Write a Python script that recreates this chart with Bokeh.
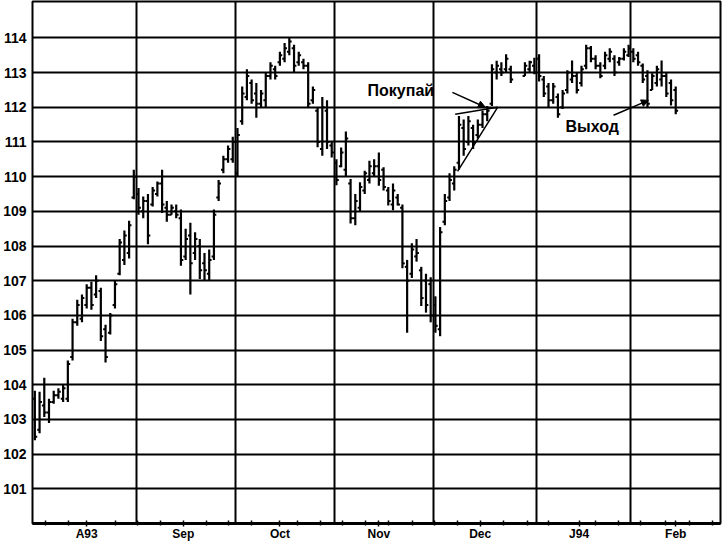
from bokeh.plotting import figure
from bokeh.models import FixedTicker, Arrow, NormalHead, Label, Range1d, ColumnDataSource
from bokeh.embed import file_html
from bokeh.resources import INLINE

# ---- data (trading-day index, prices) ----
aug_h = [103.83,103.8,104.2,103.6,103.83,103.9,104.0,104.7,105.9,106.45,106.6,106.9,106.97,107.16,106.8,105.73,106.07,107.0,108.2,108.45,108.73,110.2]
aug_l = [102.4,102.6,103.07,102.9,103.45,103.6,103.5,103.5,104.7,105.7,105.8,106.2,106.16,106.5,105.26,104.64,105.45,106.2,107.16,107.45,107.64,109.35]
aug_o = [103.6,102.7,103.4,103.2,103.5,103.7,103.6,103.6,104.8,105.8,105.9,106.3,106.8,106.6,106.7,105.6,105.5,106.3,107.2,107.6,107.8,109.4]
aug_c = [102.5,103.5,103.2,103.5,103.7,103.8,103.9,104.6,105.8,106.3,106.5,106.8,106.3,107.0,105.4,104.8,106.0,106.9,108.1,108.3,108.6,110.0]

sep_h = [109.67,109.43,109.5,109.7,109.86,110.2,109.3,109.2,109.2,109.05,108.5,108.67,108.4,108.2,107.8,107.9,109.05,109.9,110.6,110.9,111.15]
sep_l = [108.9,108.8,108.05,109.14,109.43,108.95,108.7,108.9,108.8,107.43,107.6,106.6,107.6,107.05,107.0,107.0,107.6,109.3,110.1,110.4,110.4]
sep_o = [109.5,109.0,109.3,109.2,109.5,109.8,109.1,108.9,109.0,108.8,107.7,108.3,107.8,108.0,107.5,107.2,107.7,109.4,110.2,110.5,110.5]
sep_c = [109.1,109.3,108.3,109.6,109.8,109.2,108.9,109.1,108.9,107.6,108.2,107.5,108.2,107.3,107.3,107.6,108.9,109.8,110.5,110.8,111.0]

oct_h = [111.4,112.6,113.1,112.8,112.7,112.5,113.0,113.3,113.2,113.6,113.85,114.0,113.8,113.6,113.4,113.3,112.6,112.0,112.3,112.2,111.0]
oct_l = [110.0,111.5,112.2,112.1,111.7,112.0,112.0,112.8,112.8,113.2,113.3,113.5,113.0,113.2,113.1,112.0,112.1,110.85,110.6,110.8,110.55]
oct_o = [110.1,111.6,112.3,112.7,112.4,112.1,112.2,112.9,113.1,113.3,113.4,113.6,113.7,113.3,113.3,113.2,112.2,111.9,110.8,111.9,110.9]
oct_c = [111.2,112.4,112.9,112.2,112.1,112.4,112.9,113.2,112.9,113.5,113.7,113.9,113.2,113.5,113.2,112.1,112.5,111.0,112.0,111.0,110.7]

nov_h = [110.5,110.84,111.3,109.93,109.5,109.84,110.17,110.46,110.5,110.7,110.27,109.7,109.8,109.5,109.2,107.6,108.08,108.2,107.4,107.2,107.1]
nov_l = [109.75,110.27,110.0,108.65,108.6,108.98,109.5,109.8,110.0,109.74,109.6,109.17,109.03,109.17,107.36,105.5,107.08,107.55,106.27,106.08,105.8]
nov_o = [110.4,110.3,110.2,109.8,108.8,109.1,109.6,109.9,110.1,110.3,110.2,109.6,109.2,109.4,109.1,107.4,107.2,107.7,107.3,107.0,106.9]
nov_c = [109.9,110.7,111.1,108.8,109.3,109.7,110.1,110.3,110.3,109.9,109.7,109.3,109.6,109.2,107.5,107.0,107.9,107.8,106.5,106.3,106.0]

dec_h = [106.55,108.55,109.5,110.1,110.3,111.75,111.65,111.75,111.5,111.65,111.9,112.04,113.24,113.34,113.3,113.53,113.2,113.3,113.34,113.43]
dec_l = [105.5,105.4,108.6,109.3,109.6,110.2,110.6,110.9,110.8,111.1,111.4,111.6,112.04,112.8,112.9,113.0,112.7,112.9,113.0,112.95]
dec_o = [106.3,105.6,108.7,109.4,109.8,110.4,111.4,111.0,111.4,111.2,111.5,111.8,112.1,113.0,113.1,113.1,113.1,112.9,113.1,113.2]
dec_c = [105.7,108.4,109.3,109.9,110.2,111.5,110.8,111.6,111.0,111.5,111.8,111.9,113.1,113.2,113.0,113.4,112.8,113.2,113.3,113.0]

jan_h = [113.53,112.9,112.7,112.7,112.4,112.5,113.07,113.35,113.0,113.2,113.8,113.77,113.5,113.3,113.6,113.7,113.5,113.45,113.7,113.8]
jan_l = [112.74,112.3,112.0,112.1,111.7,111.95,112.4,112.7,112.4,112.6,113.1,113.3,113.1,112.84,113.1,113.3,112.9,113.2,113.35,113.45]
jan_o = [113.4,112.8,112.6,112.2,112.3,112.0,112.5,112.8,112.9,112.7,113.2,113.7,113.4,113.2,113.2,113.4,113.4,113.3,113.4,113.5]
jan_c = [112.9,112.4,112.2,112.6,111.8,112.4,113.0,112.9,112.5,113.1,113.7,113.4,113.2,112.9,113.5,113.6,113.0,113.4,113.6,113.7]

feb_h = [113.7,113.6,113.26,113.07,112.98,113.2,113.35,113.0,112.8,112.6]
feb_l = [113.3,113.2,112.7,112.0,112.5,112.6,112.6,112.3,112.05,111.8]
feb_o = [113.6,113.5,113.2,112.9,112.5,112.7,112.8,112.9,112.7,112.5]
feb_c = [113.4,113.3,112.8,112.1,112.9,113.1,112.9,112.4,112.2,111.9]

# trading-day index of each bar (two holiday sessions missing in late December)
days = list(range(0, 102)) + list(range(104, 137))

month_starts = [0, 22, 43, 64, 85, 107, 127, 146]
month_label_pos = [11.5, 32, 52.5, 73.5, 95, 116, 136.5]
month_labels = ["A93", "Sep", "Oct", "Nov", "Dec", "J94", "Feb"]
week_ticks = [2.7, 7.6, 17.6, 22.3, 27.2, 36.9, 41.6, 46.5, 56.2, 61.1, 65.8, 70.7,
              75.6, 80.6, 85.4, 90.2, 100, 105, 109.5, 119.5, 124.4, 129, 134.3, 139.4, 144.3]
price_ticks = [101, 102, 103, 104, 105, 106, 107, 108, 109, 110, 111, 112, 113, 114]

highs = aug_h + sep_h + oct_h + nov_h + dec_h + jan_h + feb_h
lows = aug_l + sep_l + oct_l + nov_l + dec_l + jan_l + feb_l
opens = aug_o + sep_o + oct_o + nov_o + dec_o + jan_o + feb_o
closes = aug_c + sep_c + oct_c + nov_c + dec_c + jan_c + feb_c

xs = [d + 0.5 for d in days]
src = ColumnDataSource(dict(
    x=xs, xl=[x - 0.5 for x in xs], xr=[x + 0.5 for x in xs],
    h=highs, l=lows, o=opens, c=closes))

FONT = "Liberation Sans"

p = figure(width=723, height=543, output_backend="svg", toolbar_location=None,
           x_range=Range1d(0, 146), y_range=Range1d(100, 115.05),
           min_border_left=32, min_border_right=3, min_border_top=1, min_border_bottom=0,
           title=None)
p.background_fill_color = "white"
p.border_fill_color = "white"
p.outline_line_color = "black"
p.outline_line_width = 2

# grids
p.xgrid.ticker = FixedTicker(ticks=month_starts)
p.ygrid.ticker = FixedTicker(ticks=price_ticks)
for g in (p.xgrid, p.ygrid):
    g.grid_line_color = "black"
    g.grid_line_width = 2
    g.grid_line_alpha = 1.0

# y axis
p.yaxis.ticker = FixedTicker(ticks=price_ticks)
p.yaxis.axis_line_color = None
p.yaxis.major_tick_line_color = None
p.yaxis.minor_tick_line_color = None
p.yaxis.major_tick_out = 0
p.yaxis.major_label_standoff = 6
p.yaxis.major_label_text_font = FONT
p.yaxis.major_label_text_font_style = "bold"
p.yaxis.major_label_text_font_size = "14px"
p.yaxis.major_label_text_color = "black"

# x axis
p.xaxis.ticker = FixedTicker(ticks=month_label_pos, minor_ticks=week_ticks)
p.xaxis.major_label_overrides = {pos: lab for pos, lab in zip(month_label_pos, month_labels)}
p.xaxis.axis_label = None
p.xaxis.axis_line_width = 3
p.xaxis.axis_line_color = "black"
p.xaxis.major_tick_in = 3
p.xaxis.major_tick_out = 3
p.xaxis.minor_tick_in = 3
p.xaxis.minor_tick_out = 2
p.xaxis.major_tick_line_width = 1.5
p.xaxis.minor_tick_line_width = 1.5
p.xaxis.major_label_standoff = 0
p.xaxis.axis_label_standoff = 0
p.xaxis.major_label_text_line_height = 1.0
p.xaxis.major_label_text_font = FONT
p.xaxis.major_label_text_font_style = "bold"
p.xaxis.major_label_text_font_size = "12px"
p.xaxis.major_label_text_color = "black"

# OHLC bars
p.segment(x0="x", y0="l", x1="x", y1="h", source=src, line_color="black", line_width=2.2)
p.segment(x0="xl", y0="o", x1="x", y1="o", source=src, line_color="black", line_width=2)
p.segment(x0="x", y0="c", x1="xr", y1="c", source=src, line_color="black", line_width=2)

# triangle (pennant) annotation
p.line(x=[89.7, 98.7, 90.2], y=[111.8, 112.0, 110.15], line_color="black", line_width=1.5)

# text + arrows
p.add_layout(Label(x=71.1, y=112.49, text="Покупай", text_font=FONT, text_font_style="bold",
                   text_font_size="16px", text_baseline="middle", text_color="black"))
p.add_layout(Arrow(end=NormalHead(size=7, fill_color="black", line_color="black"),
                   x_start=89.1, y_start=112.43, x_end=96.1, y_end=112.0,
                   line_color="black", line_width=1.5))
p.add_layout(Label(x=113.1, y=111.46, text="Выход", text_font=FONT, text_font_style="bold",
                   text_font_size="16px", text_baseline="middle", text_color="black"))
p.add_layout(Arrow(end=NormalHead(size=7, fill_color="black", line_color="black"),
                   x_start=123.3, y_start=111.77, x_end=130.7, y_end=112.2,
                   line_color="black", line_width=1.5))

open("out.html", "w").write(file_html(p, INLINE))
